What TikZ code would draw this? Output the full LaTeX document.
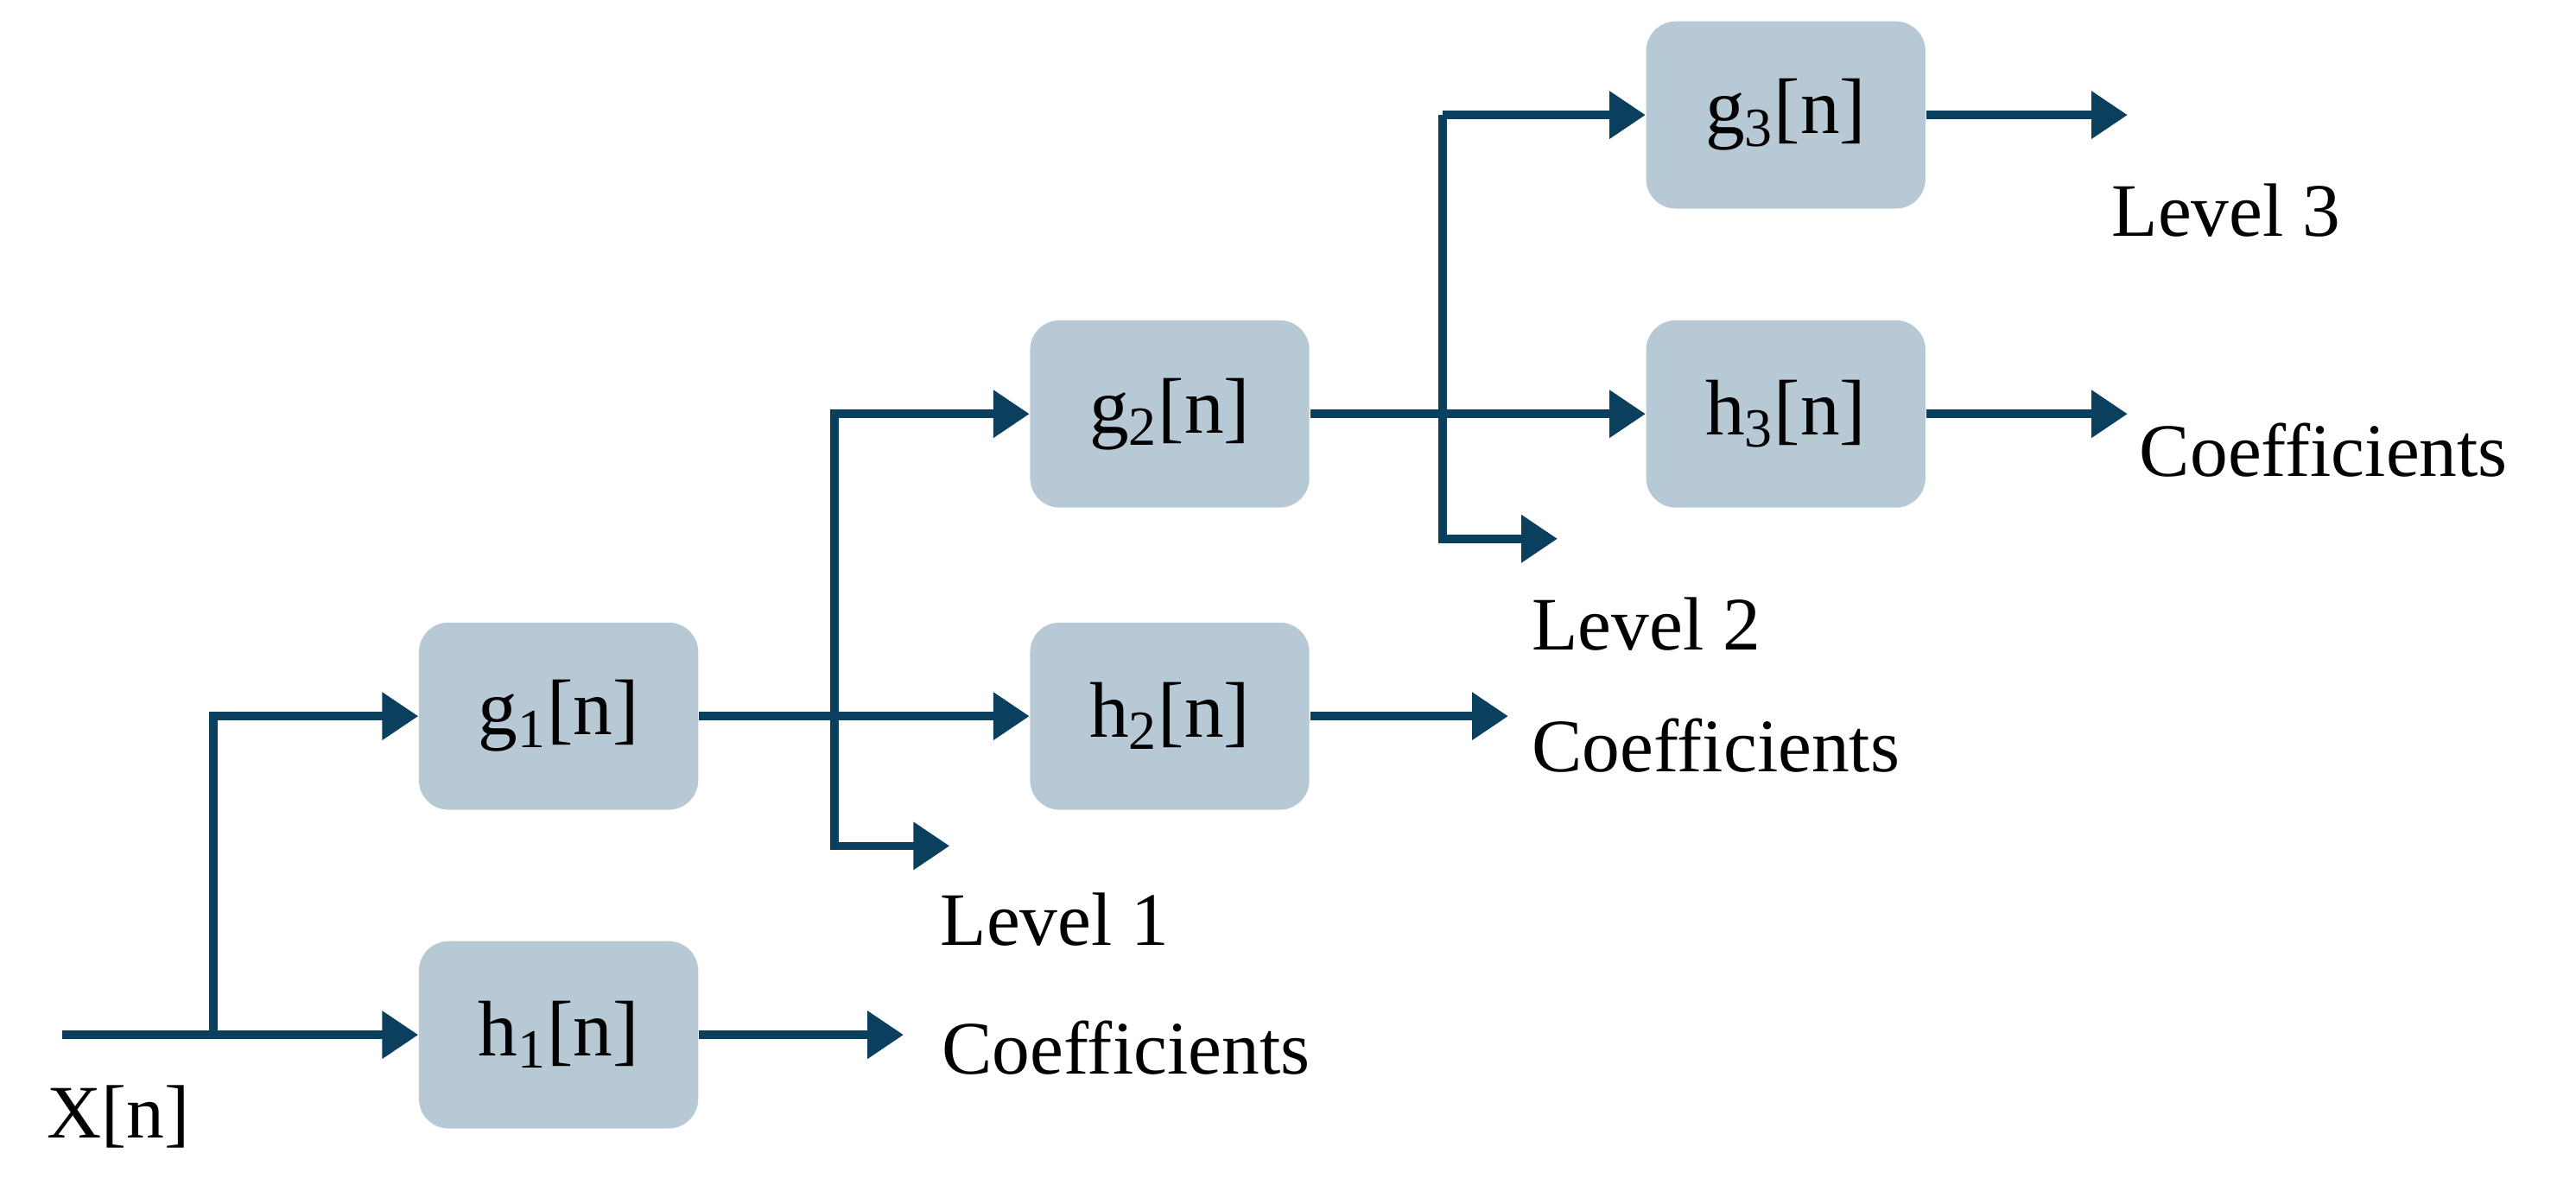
\documentclass[tikz,border=0pt]{standalone}
\usepackage{fontspec}
\setmainfont{Liberation Serif}
\usetikzlibrary{arrows.meta}
\definecolor{ln}{HTML}{0B3F5E}
\definecolor{bx}{HTML}{B8C9D6}
\tikzset{
  filt/.style={fill=bx, rounded corners=9pt, minimum width=85pt, minimum height=57pt, inner sep=0pt, font=\fontsize{24}{28}\selectfont},
  lbl/.style={anchor=west, inner sep=0pt, font=\fontsize{23}{27}\selectfont},
  conn/.style={draw=ln, line width=2.5pt, -{Triangle[length=11pt,width=14pt]}},
  wire/.style={draw=ln, line width=2.5pt}
}
\begin{document}
\begin{tikzpicture}[x=0.5pt,y=-0.5pt]
\useasboundingbox (0,0) rectangle (1568,721.3);
\node[filt] (g1) at (340,436) {g\textsubscript{1}[n]};
\node[filt] (h1) at (340,630) {h\textsubscript{1}[n]};
\node[filt] (g2) at (712,252) {g\textsubscript{2}[n]};
\node[filt] (h2) at (712,436) {h\textsubscript{2}[n]};
\node[filt] (g3) at (1087,70) {g\textsubscript{3}[n]};
\node[filt] (h3) at (1087,252) {h\textsubscript{3}[n]};
\coordinate (x0) at (38,630);
\coordinate (s1) at (130,630);
\coordinate (s2) at (508,436);
\coordinate (s3) at (878,252);
\coordinate (c1) at (550,630);
\coordinate (l1) at (578,515);
\coordinate (c2) at (918,436);
\coordinate (l2) at (948,328);
\coordinate (l3) at (1295,70);
\coordinate (c3) at (1295,252);
\node[lbl] (xt) at (28,680) {X[n]};
\node[lbl] (ct1) at (573,638) {Coefficients};
\node[lbl] (lt1) at (572,560) {Level 1};
\node[lbl] (ct2) at (932,454) {Coefficients};
\node[lbl] (lt2) at (932,380) {Level 2};
\node[lbl] (ct3) at (1302,274) {Coefficients};
\node[lbl] (lt3) at (1285,128) {Level 3};
\draw[conn] (x0) -- (h1.west);
\draw[conn] (s1) |- (g1.west);
\draw[conn] (h1.east) -- (c1);
\draw[conn] (g1.east) -- (h2.west);
\draw[conn] (l1 -| s2) ++(0,0) |- (g2.west);
\draw[conn] (s2 |- g2) |- (l1);
\draw[conn] (h2.east) -- (c2);
\draw[conn] (g2.east) -- (h3.west);
\draw[conn] (s3 |- g3) |- (l2);
\draw[conn] (s3 |- g3) -- (g3.west);
\draw[conn] (g3.east) -- (l3);
\draw[conn] (h3.east) -- (c3);
\end{tikzpicture}
\end{document}
